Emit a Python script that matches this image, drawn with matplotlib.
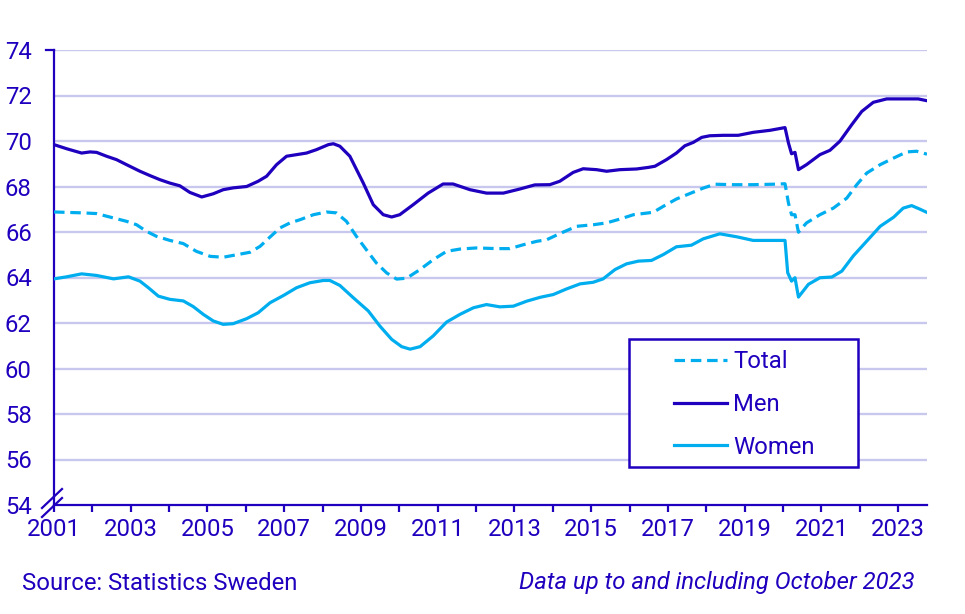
import matplotlib
matplotlib.use('Agg')
import matplotlib.pyplot as plt
from matplotlib.lines import Line2D
from matplotlib.patches import Rectangle

plt.rcParams['font.family'] = ['Roboto', 'DejaVu Sans']

men_t = [2001.0, 2001.33, 2001.72, 2001.94, 2002.11, 2002.37, 2002.63, 2002.89, 2003.24, 2003.5,
         2003.76, 2004.02, 2004.28, 2004.54, 2004.85, 2005.15, 2005.41, 2005.67, 2006.02, 2006.32,
         2006.54, 2006.8, 2007.06, 2007.32, 2007.58, 2007.84, 2008.15, 2008.28, 2008.45, 2008.71,
         2009.06, 2009.32, 2009.58, 2009.8, 2010.01, 2010.36, 2010.75, 2011.14, 2011.4, 2011.84,
         2012.27, 2012.71, 2013.14, 2013.53, 2013.92, 2014.18, 2014.53, 2014.79, 2015.14, 2015.4,
         2015.75, 2016.18, 2016.49, 2016.66, 2016.96, 2017.22, 2017.44, 2017.66, 2017.88, 2018.09,
         2018.44, 2018.83, 2019.22, 2019.66, 2020.05, 2020.14, 2020.22, 2020.31, 2020.4, 2020.61,
         2020.96, 2021.22, 2021.48, 2021.79, 2022.05, 2022.35, 2022.7, 2023.22, 2023.52, 2023.75]
men = [69.84, 69.66, 69.47, 69.52, 69.5, 69.33, 69.18, 68.96, 68.67, 68.48,
       68.3, 68.15, 68.03, 67.74, 67.54, 67.68, 67.86, 67.94, 68.0, 68.23,
       68.45, 68.96, 69.33, 69.4, 69.47, 69.62, 69.84, 69.88, 69.77, 69.33,
       68.15, 67.2, 66.76, 66.66, 66.76, 67.2, 67.71, 68.11, 68.11, 67.86,
       67.71, 67.71, 67.89, 68.07, 68.08, 68.23, 68.62, 68.78, 68.74, 68.67,
       68.74, 68.77, 68.84, 68.89, 69.18, 69.47, 69.79, 69.94, 70.16, 70.23,
       70.25, 70.25, 70.38, 70.47, 70.59, 69.91, 69.44, 69.5, 68.74, 68.96,
       69.4, 69.59, 69.99, 70.72, 71.3, 71.7, 71.85, 71.85, 71.85, 71.77]

tot_t = [2001.0, 2001.76, 2002.11, 2002.45, 2002.89, 2003.15, 2003.41, 2003.67, 2004.02, 2004.37,
         2004.71, 2005.07, 2005.41, 2005.76, 2006.11, 2006.37, 2006.63, 2006.89, 2007.15, 2007.41,
         2007.76, 2008.1, 2008.36, 2008.62, 2008.88, 2009.14, 2009.4, 2009.67, 2009.93, 2010.19,
         2010.53, 2010.88, 2011.23, 2011.58, 2012.01, 2012.53, 2012.88, 2013.23, 2013.58, 2013.84,
         2014.18, 2014.62, 2015.06, 2015.4, 2015.75, 2016.1, 2016.49, 2016.62, 2016.88, 2017.22,
         2017.57, 2017.92, 2018.22, 2018.7, 2019.22, 2019.74, 2020.05, 2020.14, 2020.22, 2020.31,
         2020.4, 2020.61, 2020.96, 2021.31, 2021.66, 2021.92, 2022.18, 2022.53, 2022.88, 2023.22,
         2023.48, 2023.75]
total = [66.88, 66.84, 66.81, 66.66, 66.47, 66.32, 66.03, 65.81, 65.63, 65.49,
         65.15, 64.93, 64.89, 65.0, 65.11, 65.37, 65.78, 66.18, 66.4, 66.54,
         66.76, 66.88, 66.84, 66.47, 65.81, 65.22, 64.64, 64.2, 63.93, 63.97,
         64.34, 64.78, 65.15, 65.25, 65.3, 65.27, 65.27, 65.44, 65.59, 65.66,
         65.93, 66.25, 66.32, 66.4, 66.57, 66.76, 66.84, 66.87, 67.13, 67.45,
         67.69, 67.93, 68.1, 68.08, 68.08, 68.1, 68.12, 67.27, 66.76, 66.76,
         65.99, 66.4, 66.76, 67.05, 67.49, 68.08, 68.59, 68.96, 69.25, 69.52,
         69.55, 69.42]

wom_t = [2001.0, 2001.33, 2001.72, 2002.11, 2002.55, 2002.94, 2003.24, 2003.46, 2003.72, 2004.02,
         2004.37, 2004.63, 2004.89, 2005.15, 2005.41, 2005.67, 2006.02, 2006.32, 2006.63, 2006.98,
         2007.32, 2007.67, 2008.02, 2008.19, 2008.45, 2008.8, 2009.19, 2009.49, 2009.8, 2010.06,
         2010.28, 2010.54, 2010.88, 2011.23, 2011.58, 2011.93, 2012.27, 2012.62, 2012.97, 2013.32,
         2013.67, 2014.01, 2014.36, 2014.71, 2015.05, 2015.31, 2015.62, 2015.92, 2016.23, 2016.57,
         2016.88, 2017.22, 2017.61, 2017.92, 2018.35, 2018.79, 2019.22, 2020.05, 2020.12, 2020.22,
         2020.31, 2020.4, 2020.66, 2020.96, 2021.27, 2021.53, 2021.83, 2022.18, 2022.53, 2022.88,
         2023.13, 2023.35, 2023.57, 2023.75]
women = [63.94, 64.03, 64.16, 64.09, 63.94, 64.03, 63.84, 63.55, 63.18, 63.04,
         62.97, 62.72, 62.38, 62.09, 61.94, 61.97, 62.19, 62.45, 62.89, 63.21,
         63.55, 63.77, 63.87, 63.87, 63.65, 63.11, 62.53, 61.87, 61.28, 60.96,
         60.85, 60.96, 61.43, 62.04, 62.38, 62.67, 62.81, 62.71, 62.74, 62.96,
         63.13, 63.25, 63.5, 63.72, 63.79, 63.94, 64.35, 64.6, 64.72, 64.75,
         65.01, 65.35, 65.42, 65.7, 65.92, 65.79, 65.63, 65.63, 64.21, 63.84,
         63.99, 63.14, 63.7, 63.99, 64.02, 64.28, 64.95, 65.6, 66.25, 66.65,
         67.05, 67.16, 67.0, 66.86]

year_ticks = list(range(2001, 2024))
year_labels = [str(y) if y % 2 == 1 else '' for y in year_ticks]
y_ticks = list(range(54, 75, 2))

DARK = '#1e00be'
LIGHT = '#00aeef'
GRID = '#c8c8ee'
FS = 17.2

W, H = 965, 614
fig = plt.figure(figsize=(W / 100, H / 100), dpi=100)
ax = fig.add_axes([54 / W, 1 - 505 / H, (927 - 54) / W, (505 - 50) / H])

ax.plot(tot_t, total, color=LIGHT, lw=2.3, dashes=(3.3, 1.8), label='Total', zorder=3)
ax.plot(men_t, men, color=DARK, lw=2.3, label='Men', zorder=3)
ax.plot(wom_t, women, color=LIGHT, lw=2.3, label='Women', zorder=3)

ax.set_xlim(2001, 2023.75)
ax.set_ylim(54, 74)
ax.set_yticks(y_ticks)
ax.set_xticks(year_ticks)
ax.set_xticklabels(year_labels)
for v in y_ticks[1:]:
    ax.axhline(v, color=GRID, lw=1.7, zorder=1)

for s in ['top', 'right']:
    ax.spines[s].set_visible(False)
for s in ['left', 'bottom']:
    ax.spines[s].set_color(DARK)
    ax.spines[s].set_linewidth(1.6)
ax.tick_params(axis='y', length=0, pad=16, labelsize=FS, labelcolor=DARK)
ax.tick_params(axis='x', length=5, width=1.6, color=DARK, pad=4, labelsize=FS, labelcolor=DARK)

# small cap at top of y axis and the axis break marks
fig.add_artist(Line2D([46 / W, 54 / W], [1 - 50 / H, 1 - 50 / H], color=DARK, lw=1.6))
fig.add_artist(Line2D([42 / W, 62 / W], [1 - 508 / H, 1 - 489 / H], color=DARK, lw=1.6))
fig.add_artist(Line2D([42 / W, 62 / W], [1 - 517 / H, 1 - 498 / H], color=DARK, lw=1.6))

# legend drawn by hand to match the box
fig.add_artist(Rectangle((629 / W, 1 - 467 / H), (858 - 629) / W, (467 - 339) / H,
                         transform=fig.transFigure, facecolor='white', edgecolor=DARK, lw=1.8,
                         zorder=5))
rows = [('Total', LIGHT, (3.3, 1.8)), ('Men', DARK, None), ('Women', LIGHT, None)]
for i, (lab, col, dsh) in enumerate(rows):
    yy = 1 - (360 + i * 42.5) / H
    ln = Line2D([674 / W, 727 / W], [yy, yy], color=col, lw=2.3, zorder=6)
    if dsh:
        ln.set_dashes(dsh)
    fig.add_artist(ln)
    fig.text(733 / W, yy - 2 / H, lab, fontsize=FS, color=DARK, va='center', ha='left', zorder=6)

fig.text(22 / W, 1 - 583 / H, 'Source: Statistics Sweden', fontsize=FS, color=DARK,
         va='center', ha='left')
fig.text(915 / W, 1 - 583 / H, 'Data up to and including October 2023', fontsize=FS,
         color=DARK, va='center', ha='right', style='italic')

fig.savefig('out.png', dpi=100)
